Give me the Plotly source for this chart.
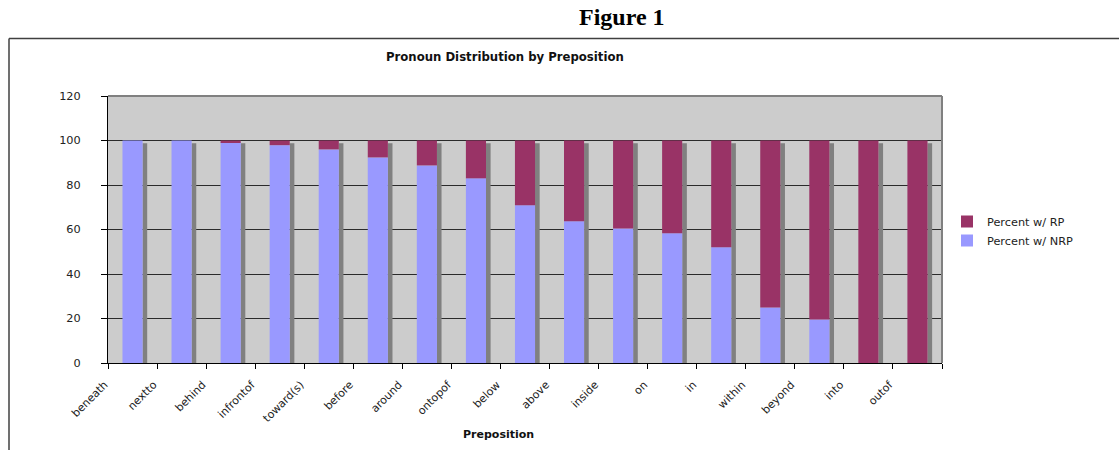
import plotly.graph_objects as go

categories = ["beneath", "nextto", "behind", "infrontof", "toward(s)", "before", "around",
              "ontopof", "below", "above", "inside", "on", "in", "within", "beyond", "into", "outof"]
pct_nrp = [100, 100, 99.3, 97.9, 96.0, 92.4, 88.8, 83.0, 70.9, 63.7, 60.5, 58.3, 52.0, 25.0, 19.6, 0, 0]
pct_rp = [0, 0, 0.7, 2.1, 4.0, 7.6, 11.2, 17.0, 29.1, 36.3, 39.5, 41.7, 48.0, 75.0, 80.4, 100, 100]
y_ticks = [0, 20, 40, 60, 80, 100, 120]

# plot-area geometry in pixels
L, R, T, B = 108, 942, 96, 363
W, H = R - L, B - T
FW, FH = 1119, 450


def px_x(x):
    return (x - L) / W


def px_y(y):
    return (B - y) / H


totals = [a + b for a, b in zip(pct_nrp, pct_rp)]
shadow = [t - 1.2 for t in totals]

FONT = "DejaVu Sans"
fig = go.Figure()
fig.add_trace(go.Bar(x=categories, y=shadow, width=0.095, offset=0.204,
                     marker=dict(color="#808080", line=dict(width=0)),
                     showlegend=False, hoverinfo="skip"))
fig.add_trace(go.Bar(x=categories, y=pct_nrp, name="Percent w/ NRP", width=0.41,
                     marker=dict(color="#9999FF", line=dict(width=0))))
fig.add_trace(go.Bar(x=categories, y=pct_rp, base=pct_nrp, name="Percent w/ RP", width=0.41,
                     marker=dict(color="#993366", line=dict(width=0))))

fig.update_layout(
    width=FW, height=FH,
    margin=dict(l=L, r=FW - R, t=T, b=FH - B, pad=0),
    barmode="overlay",
    paper_bgcolor="white",
    plot_bgcolor="#CCCCCC",
    font=dict(family=FONT, size=11, color="#222222"),
    showlegend=True,
    legend=dict(x=px_x(947), xanchor="left", y=px_y(207), yanchor="top",
                traceorder="reversed", font=dict(family=FONT, size=11.3, color="#222222"),
                bgcolor="rgba(0,0,0,0)", tracegroupgap=0, itemwidth=30),
    xaxis=dict(range=[-0.5, len(categories) - 0.5], showgrid=False,
               showline=True, linecolor="black", linewidth=1,
               ticks="outside", tickson="boundaries", ticklen=5, tickcolor="black",
               tickangle=-45, ticklabelshift=-28, ticklabelstandoff=10,
               tickfont=dict(family=FONT, size=11, color="#222222")),
    yaxis=dict(range=[0, 120], tickvals=y_ticks, showgrid=True, gridcolor="#2a2a2a",
               gridwidth=1, zeroline=False, showline=True, linecolor="black", linewidth=1,
               ticks="outside", ticklen=6, tickcolor="black", ticklabelstandoff=18,
               tickfont=dict(family=FONT, size=11.3, color="#222222")),
    annotations=[
        dict(text="<b>Figure 1</b>", x=px_x(622), y=px_y(17), xref="paper", yref="paper",
             xanchor="center", yanchor="middle", showarrow=False,
             font=dict(family="Liberation Serif", size=24, color="black")),
        dict(text="<b>Pronoun Distribution by Preposition</b>", x=px_x(504.5), y=px_y(57),
             xref="paper", yref="paper", xanchor="center", yanchor="middle", showarrow=False,
             font=dict(family=FONT, size=11.7, color="#111111")),
        dict(text="<b>Preposition</b>", x=px_x(498), y=px_y(434), xref="paper", yref="paper",
             xanchor="center", yanchor="middle", showarrow=False,
             font=dict(family=FONT, size=11, color="#111111")),
    ],
    shapes=[
        dict(type="line", xref="paper", yref="paper", x0=px_x(9), x1=px_x(1130),
             y0=px_y(38.5), y1=px_y(38.5), line=dict(color="#404040", width=1.5)),
        dict(type="line", xref="paper", yref="paper", x0=px_x(9), x1=px_x(9),
             y0=px_y(38.5), y1=px_y(460), line=dict(color="#404040", width=1.5)),
        dict(type="line", xref="paper", yref="paper", x0=0, x1=1, y0=1, y1=1,
             line=dict(color="#808080", width=2)),
        dict(type="line", xref="paper", yref="paper", x0=1, x1=1, y0=0, y1=1,
             line=dict(color="#808080", width=2)),
    ],
)

fig.write_html("out.html")
